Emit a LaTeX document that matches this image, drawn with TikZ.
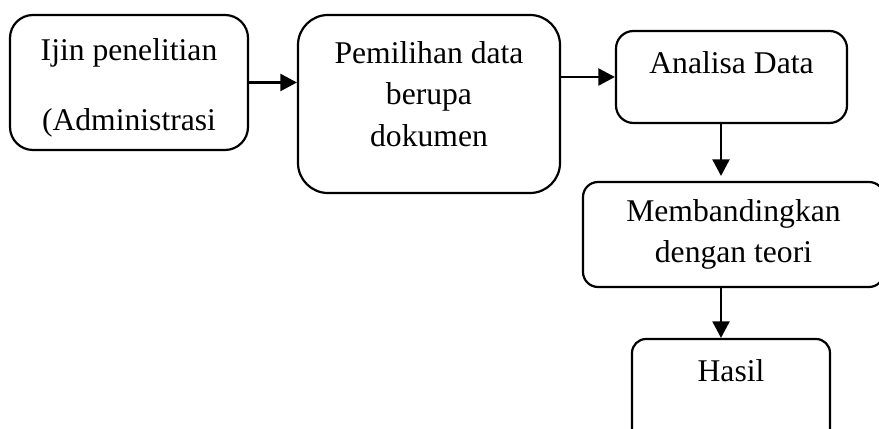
\documentclass[tikz,border=0pt]{standalone}
\usepackage{fontspec}
\setmainfont{Liberation Serif}
\usetikzlibrary{arrows.meta}

\begin{document}
\begin{tikzpicture}[line width=1.25pt,
      every node/.style={inner sep=0pt,align=center,font=\fontsize{18}{23.5}\selectfont},
      box/.style={draw,rounded corners=0.35cm},
      >={Triangle[length=0.33cm,width=0.34cm]}]
      \useasboundingbox(0,0)rectangle(17.58,-8.58);
      \node[box,rounded corners=0.46cm,minimum width=4.76cm,minimum height=2.7cm](ijin)at(2.58,-1.65)
         {\mbox{}\\[-5pt]Ijin penelitian\\[16pt](Administrasi};
      \node[box,rounded corners=0.6cm,minimum width=5.24cm,minimum height=3.56cm](pilih)at(8.58,-2.08)
         {Pemilihan data\\berupa\\dokumen\\[-12pt]\mbox{}};
      \node[box,minimum width=4.62cm,minimum height=1.84cm,text height=0.86cm,text depth=0.98cm](analisa)
         at(14.63,-1.54){Analisa Data};
      \node[box,rounded corners=0.3cm,minimum width=6.02cm,minimum height=2.1cm](banding)at(14.67,-4.69)
         {Membandingkan\\dengan teori};
      \node[box,rounded corners=0.28cm,minimum width=3.96cm,minimum height=2.12cm,text height=0.84cm,
         text depth=1.28cm](hasil)at(14.62,-7.84){Hasil};
      \draw[->](ijin.east)--(ijin.east-|pilih.west);
      \draw[->](pilih.east|-analisa.west)--(analisa.west);
      \draw[->]([xshift=-0.21cm]analisa.south)--([xshift=-0.21cm,yshift=0.1cm]analisa.south|-banding.north);
      \draw[->]([xshift=-0.25cm]banding.south)--([xshift=-0.25cm]banding.south|-hasil.north);
    \end{tikzpicture}
\end{document}
